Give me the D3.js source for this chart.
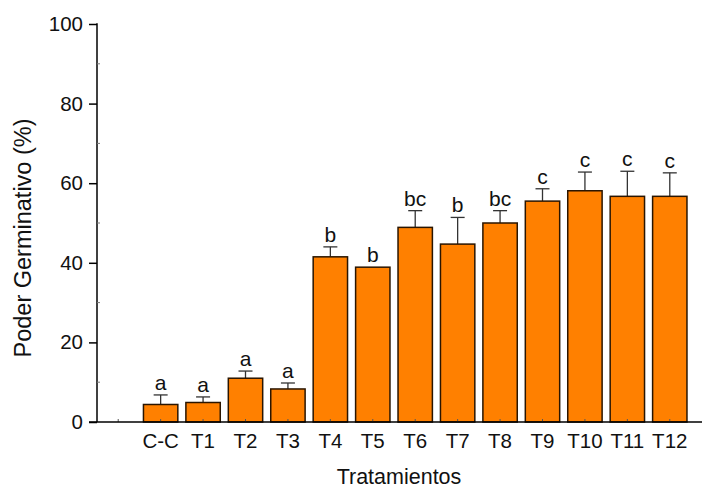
<!DOCTYPE html>
<html>
<head>
<meta charset="utf-8">
<script src="https://cdn.jsdelivr.net/npm/d3@7"></script>
<style>
  html, body { margin: 0; padding: 0; background: #fff; }
  svg { display: block; }
  text { font-family: "Liberation Sans", Arial, sans-serif; fill: #111; }
</style>
</head>
<body>
<svg id="chart" width="704" height="489"></svg>
<script>
// Treatments (an empty slot precedes the control on the axis)
const categories = ["C-C", "T1", "T2", "T3", "T4", "T5", "T6", "T7", "T8", "T9", "T10", "T11", "T12"];
// Mean germination power (%)
const meanValues = [4.4, 4.9, 11.0, 8.3, 41.5, 38.9, 48.9, 44.7, 50.0, 55.5, 58.1, 56.7, 56.7];
// Standard deviation (upper whisker only)
const errValues = [2.4, 1.4, 1.8, 1.5, 2.5, 0.0, 4.2, 6.7, 3.1, 3.1, 4.7, 6.3, 5.9];
// Significance letters
const groupLetters = ["a", "a", "a", "a", "b", "b", "bc", "b", "bc", "c", "c", "c", "c"];
const yTicks = [0, 20, 40, 60, 80, 100];
const yMinorTicks = [10, 30, 50, 70, 90];

const svg = d3.select("#chart");
const plotLeft = 97, plotRight = 702, plotTop = 24, plotBottom = 422;

const slots = ["", ...categories];
const x = d3.scalePoint().domain(slots).range([plotLeft, 691]).padding(0.5);
const y = d3.scaleLinear().domain([0, 100]).range([plotBottom, plotTop]);
const barW = x.step() * 0.81;

const data = categories.map((c, i) => ({ c, v: meanValues[i], e: errValues[i], g: groupLetters[i] }));

// Error whiskers (drawn first so bars cover the lower part)
const err = svg.append("g").attr("stroke", "#333").attr("stroke-width", 1.3);
data.forEach(d => {
  const cx = x(d.c);
  if (d.e > 0) {
    err.append("line").attr("x1", cx).attr("x2", cx).attr("y1", y(d.v)).attr("y2", y(d.v + d.e));
    err.append("line").attr("x1", cx - 7).attr("x2", cx + 7).attr("y1", y(d.v + d.e)).attr("y2", y(d.v + d.e));
  }
});

// Bars
svg.append("g").selectAll("rect").data(data).join("rect")
  .attr("x", d => x(d.c) - barW / 2)
  .attr("y", d => y(d.v))
  .attr("width", barW)
  .attr("height", d => y(0) - y(d.v))
  .attr("fill", "#FF8000")
  .attr("stroke", "#2a1500")
  .attr("stroke-width", 1.5);

// Letters above whiskers
svg.append("g").selectAll("text").data(data).join("text")
  .attr("x", d => x(d.c))
  .attr("y", d => y(d.v + d.e) - 5)
  .attr("text-anchor", "middle")
  .attr("font-size", 21)
  .text(d => d.g);

// Y axis
const yAxis = svg.append("g").attr("transform", `translate(${plotLeft},0)`)
  .call(d3.axisLeft(y).tickValues(yTicks).tickSize(8).tickPadding(6));
yAxis.select(".domain").remove();
yAxis.selectAll("line").attr("stroke", "#000").attr("stroke-width", 1.5);
yAxis.selectAll("text").attr("font-size", 20.5).attr("font-family", "Liberation Sans, Arial, sans-serif").attr("fill", "#111");
svg.append("line").attr("x1", plotLeft).attr("x2", plotLeft).attr("y1", plotTop - 0.75).attr("y2", plotBottom)
  .attr("stroke", "#000").attr("stroke-width", 1.5);
svg.append("g").selectAll("line").data(yMinorTicks).join("line")
  .attr("x1", plotLeft).attr("x2", plotLeft + 3).attr("y1", d => y(d)).attr("y2", d => y(d))
  .attr("stroke", "#777").attr("stroke-width", 1);

// X axis
svg.append("g").selectAll("line").data(slots).join("line")
  .attr("x1", d => x(d)).attr("x2", d => x(d)).attr("y1", plotBottom).attr("y2", plotBottom - 3)
  .attr("stroke", "#555").attr("stroke-width", 1);
svg.append("line").attr("x1", plotLeft - 8).attr("x2", plotRight).attr("y1", plotBottom).attr("y2", plotBottom)
  .attr("stroke", "#000").attr("stroke-width", 1.5);
svg.append("g").selectAll("text").data(categories).join("text")
  .attr("x", d => x(d))
  .attr("y", 448)
  .attr("text-anchor", "middle")
  .attr("font-size", 20.5)
  .text(d => d);

// Axis titles
svg.append("text").attr("x", 399).attr("y", 484)
  .attr("text-anchor", "middle").attr("font-size", 21.5).text("Tratamientos");
svg.append("text").attr("transform", `translate(31,238) rotate(-90)`)
  .attr("text-anchor", "middle").attr("font-size", 23.5).text("Poder Germinativo (%)");
</script>
</body>
</html>
